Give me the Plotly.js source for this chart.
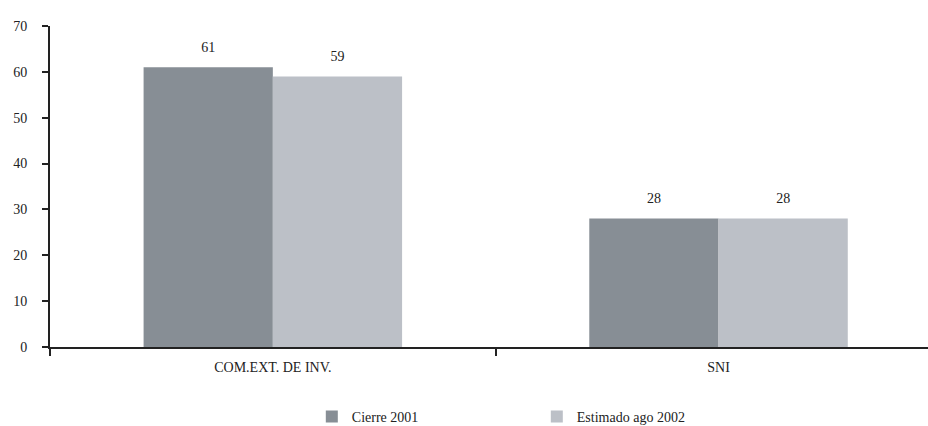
<!DOCTYPE html>
<html>
<head>
<meta charset="utf-8">
<script src="https://cdn.plot.ly/plotly-3.0.1.min.js"></script>
<style>html,body{margin:0;padding:0;background:#fff;}#chart{width:928px;height:426px;}</style>
</head>
<body>
<div id="chart"></div>
<script>
const categories = ["COM.EXT. DE INV.", "SNI"];
const cierre2001 = [61, 28];
const estimado2002 = [59, 28];
const seriesNames = ["Cierre 2001", "Estimado ago 2002"];
const yTicks = [0, 10, 20, 30, 40, 50, 60, 70];

const font = {family: "Liberation Serif", size: 14, color: "#222"};

function labelTrace(vals, group) {
  return {type: "scatter", mode: "markers+text", x: categories, y: vals,
          offsetgroup: group, text: vals.map(String), textposition: "top center",
          marker: {size: 18, color: "rgba(0,0,0,0)"}, textfont: font,
          showlegend: false, cliponaxis: false, hoverinfo: "skip"};
}

const traces = [
  {type: "bar", name: seriesNames[0], x: categories, y: cierre2001,
   offsetgroup: "a", marker: {color: "#878e95"}},
  {type: "bar", name: seriesNames[1], x: categories, y: estimado2002,
   offsetgroup: "b", marker: {color: "#bcc0c7"}},
  labelTrace(cierre2001, "a"),
  labelTrace(estimado2002, "b")
];

const layout = {
  width: 928, height: 426,
  margin: {l: 50, r: 0, t: 26, b: 79, autoexpand: false},
  paper_bgcolor: "#fff", plot_bgcolor: "#fff",
  font: font,
  barmode: "group", bargap: 0.42, bargroupgap: 0,
  scattermode: "group", scattergap: 0.42,
  showlegend: true,
  legend: {orientation: "h", x: 0.336, xref: "container", xanchor: "left",
           y: 0.0587, yref: "container", yanchor: "top",
           entrywidth: 180, font: font},
  xaxis: {type: "category", range: [-0.5, 1.47], tickson: "boundaries",
          ticks: "outside", ticklen: 7, tickwidth: 2, tickcolor: "#222",
          showline: true, linecolor: "#222", linewidth: 2, showgrid: false,
          zeroline: false, tickfont: font, fixedrange: true, ticklabelstandoff: 6},
  yaxis: {range: [0, 70], tickvals: yTicks, ticks: "outside", ticklen: 6,
          tickwidth: 2, tickcolor: "#222", showline: true, linecolor: "#222",
          linewidth: 2, showgrid: false, zeroline: false, tickfont: font,
          ticklabelstandoff: 12}
};

Plotly.newPlot("chart", traces, layout, {displayModeBar: false, staticPlot: true});
</script>
</body>
</html>
